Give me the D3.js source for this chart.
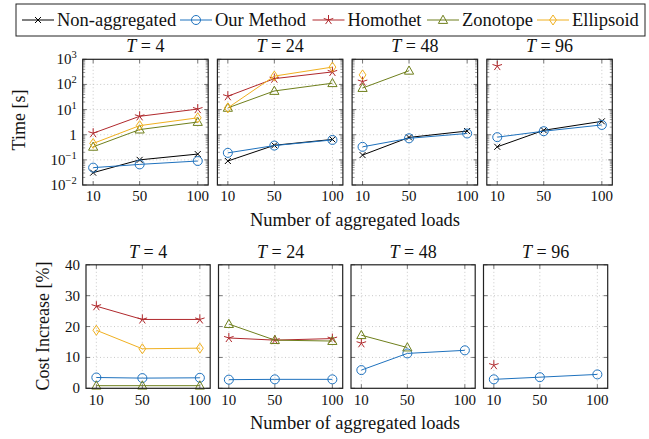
<!DOCTYPE html>
<html>
<head>
<meta charset="utf-8">
<script src="https://cdn.jsdelivr.net/npm/d3@7"></script>
<style>
  body { margin: 0; background: #fff; }
  #chart svg text, #chart svg tspan, #chart svg .lbl { font-family: 'Liberation Serif', 'Times New Roman', Tinos !important; }
</style>
</head>
<body>
<div id="chart"></div>
<script>
// data
const loads = [10, 50, 100];
const horizons = [4, 24, 48, 96];
const seriesNames = ["Non-aggregated", "Our Method", "Homothet", "Zonotope", "Ellipsoid"];
const seriesColors = ["#000000", "#1f72be", "#b0282c", "#6f7f1c", "#f0b020"];
const seriesMarks = ["cross", "circle", "star", "triangle", "diamond"];

// time [s], one row per horizon T, one value per load count (null = no result)
const timeNonAgg    = [[0.031, 0.10, 0.17], [0.09, 0.38, 0.65], [0.155, 0.78, 1.4], [0.33, 1.5, 3.4]];
const timeOur       = [[0.049, 0.066, 0.09], [0.19, 0.37, 0.62], [0.33, 0.72, 1.12], [0.8, 1.38, 2.45]];
const timeHomothet  = [[1.15, 5.4, 10.5], [34, 170, 315], [130, null, null], [540, null, null]];
const timeZonotope  = [[0.33, 1.6, 3.2], [11.7, 55, 112], [72, 350, null], [null, null, null]];
const timeEllipsoid = [[0.45, 2.3, 4.7], [11.7, 215, 490], [240, null, null], [null, null, null]];

// cost increase [%]
const costNonAgg    = [[null, null, null], [null, null, null], [null, null, null], [null, null, null]];
const costOur       = [[3.5, 3.3, 3.4], [2.8, 2.9, 2.9], [5.9, 11.3, 12.3], [2.9, 3.6, 4.5]];
const costHomothet  = [[26.6, 22.3, 22.3], [16.3, 15.6, 16.1], [14.6, null, null], [7.5, null, null]];
const costZonotope  = [[0.85, 0.85, 0.85], [20.8, 15.6, 15.3], [17.2, 13.2, null], [null, null, null]];
const costEllipsoid = [[18.8, 12.8, 13.0], [null, null, null], [null, null, null], [null, null, null]];

const timeData = [timeNonAgg, timeOur, timeHomothet, timeZonotope, timeEllipsoid];
const costData = [costNonAgg, costOur, costHomothet, costZonotope, costEllipsoid];

const timeTicks = [0.01, 0.1, 1, 10, 100, 1000];
const costTicks = [0, 10, 20, 30, 40];

const W = 649, H = 439;
const svg = d3.select("#chart").append("svg")
    .attr("width", W)
    .attr("height", H)
    .attr("font-family", "Liberation Serif");

// text helper
function addText(parent, size) {
    return parent.append("text")
        .attr("class", "lbl")
        .attr("font-family", "Liberation Serif")
        .attr("font-size", size)
        .attr("fill", "#111");
}

// marker shapes
function markPath(kind) {
    if (kind === "cross") return "M-3,-3L3,3M-3,3L3,-3";
    if (kind === "circle") return d3.symbol(d3.symbolCircle, 64)();
    if (kind === "triangle") return "M0,-4.8L4.6,3.4L-4.6,3.4Z";
    if (kind === "diamond") return "M0,-5L3.4,0L0,5L-3.4,0Z";
    // star drawn as five spokes
    let p = "";
    for (let k = 0; k < 5; k++) {
        const a = -Math.PI / 2 + k * 2 * Math.PI / 5;
        p += "M0,0L" + (5 * Math.cos(a)).toFixed(2) + "," + (5 * Math.sin(a)).toFixed(2);
    }
    return p;
}

function drawMarks(g, pts, kind, color) {
    g.selectAll(null)
        .data(pts)
        .enter()
        .append("path")
        .attr("transform", d => `translate(${d[0]},${d[1]})`)
        .attr("d", markPath(kind))
        .attr("fill", "none")
        .attr("stroke", color)
        .attr("stroke-width", 1);
}

function panel(opts) {
    const { x0, y0, w, h, yScaleType, data, h_i, title, yTickLabels } = opts;
    const g = svg.append("g").attr("transform", `translate(${x0},${y0})`);

    const x = d3.scaleLinear().domain([1, 109]).range([0, w]);
    let y;
    if (yScaleType === "log") y = d3.scaleLog().domain([0.01, 1000]).range([h, 0]);
    else y = d3.scaleLinear().domain([0, 40]).range([h, 0]);
    const yTicks = yScaleType === "log" ? timeTicks : costTicks;

    // dotted grid
    g.selectAll(".gx").data(loads).enter().append("line")
        .attr("x1", d => x(d)).attr("x2", d => x(d))
        .attr("y1", 0).attr("y2", h)
        .attr("stroke", "#bbb").attr("stroke-width", 0.8).attr("stroke-dasharray", "1,2.5");
    g.selectAll(".gy").data(yTicks.slice(1, -1)).enter().append("line")
        .attr("x1", 0).attr("x2", w)
        .attr("y1", d => y(d)).attr("y2", d => y(d))
        .attr("stroke", "#bbb").attr("stroke-width", 0.8).attr("stroke-dasharray", "1,2.5");

    // inward ticks on all sides
    const tickCol = "#555";
    g.selectAll(".xt").data(loads).enter().append("path")
        .attr("d", d => `M${x(d)},${h}v-4M${x(d)},0v4`)
        .attr("stroke", tickCol).attr("stroke-width", 0.8);
    g.selectAll(".yt").data(yTicks).enter().append("path")
        .attr("d", d => `M0,${y(d)}h4M${w},${y(d)}h-4`)
        .attr("stroke", tickCol).attr("stroke-width", 0.8);
    if (yScaleType === "log") {
        const minor = [];
        for (let e = -2; e < 3; e++) for (let m = 2; m <= 9; m++) minor.push(m * Math.pow(10, e));
        g.selectAll(".ym").data(minor).enter().append("path")
            .attr("d", d => `M0,${y(d)}h2.5M${w},${y(d)}h-2.5`)
            .attr("stroke", tickCol).attr("stroke-width", 0.6);
    }

    // series
    const line = d3.line()
        .defined(d => d[1] != null)
        .x(d => x(d[0]))
        .y(d => y(d[1]));
    data.forEach((rows, si) => {
        const vals = loads.map((l, i) => [l, rows[h_i][i]]);
        g.append("path")
            .datum(vals)
            .attr("d", line)
            .attr("fill", "none")
            .attr("stroke", seriesColors[si])
            .attr("stroke-width", 1);
        const pts = vals.filter(d => d[1] != null).map(d => [x(d[0]), y(d[1])]);
        drawMarks(g, pts, seriesMarks[si], seriesColors[si]);
    });

    // frame
    g.append("rect")
        .attr("width", w).attr("height", h)
        .attr("fill", "none").attr("stroke", "#222").attr("stroke-width", 1.2);

    // x tick labels
    loads.forEach(l => {
        addText(g, 15)
            .attr("x", x(l)).attr("y", h + 16.5)
            .attr("text-anchor", "middle")
            .text(l);
    });

    // y tick labels
    if (yTickLabels) {
        yTicks.forEach(v => {
            const t = addText(g, 15)
                .attr("x", -6).attr("y", y(v) + 5)
                .attr("text-anchor", "end");
            if (yScaleType === "log") {
                const e = Math.round(Math.log10(v));
                if (e === 0) t.text("1");
                else {
                    t.append("tspan").text("10");
                    t.append("tspan").attr("dy", -6).attr("font-size", 10.5).text(e < 0 ? "\u2212" + (-e) : e);
                }
            } else {
                t.text(v);
            }
        });
    }

    // title
    const tt = addText(g, 18)
        .attr("x", w / 2).attr("y", -7)
        .attr("text-anchor", "middle");
    tt.append("tspan").attr("font-style", "italic").text("T");
    tt.append("tspan").text(" = " + title);
}

const topX = [82.7, 217.4, 352.1, 486.8];
const botX = [86, 218.5, 351, 483.5];

horizons.forEach((T, i) => {
    panel({ x0: topX[i], y0: 59.3, w: 125.5, h: 125.7, yScaleType: "log",
        data: timeData, h_i: i, title: T, yTickLabels: i === 0 });
    panel({ x0: botX[i], y0: 264.8, w: 124.2, h: 123.5, yScaleType: "lin",
        data: costData, h_i: i, title: T, yTickLabels: i === 0 });
});

// axis labels
addText(svg, 18.5).attr("x", 355).attr("y", 226).attr("text-anchor", "middle")
    .text("Number of aggregated loads");
addText(svg, 18.5).attr("x", 355).attr("y", 429).attr("text-anchor", "middle")
    .text("Number of aggregated loads");
addText(svg, 18).attr("transform", "translate(25,120) rotate(-90)").attr("text-anchor", "middle")
    .text("Time [s]");
addText(svg, 18).attr("transform", "translate(49,326) rotate(-90)").attr("text-anchor", "middle")
    .text("Cost Increase [%]");

// legend
const legend = svg.append("g");
legend.append("rect")
    .attr("x", 16).attr("y", 4).attr("width", 629).attr("height", 32)
    .attr("fill", "#fff").attr("stroke", "#222").attr("stroke-width", 1);
const legX = [22, 180, 312.5, 427, 537];
seriesNames.forEach((name, i) => {
    const lx = legX[i];
    legend.append("line")
        .attr("x1", lx).attr("x2", lx + 32).attr("y1", 20).attr("y2", 20)
        .attr("stroke", seriesColors[i]).attr("stroke-width", 1);
    drawMarks(legend, [[lx + 16, 20]], seriesMarks[i], seriesColors[i]);
    addText(legend, 18.5)
        .attr("x", lx + 35).attr("y", 26)
        .text(name);
});
</script>
</body>
</html>
